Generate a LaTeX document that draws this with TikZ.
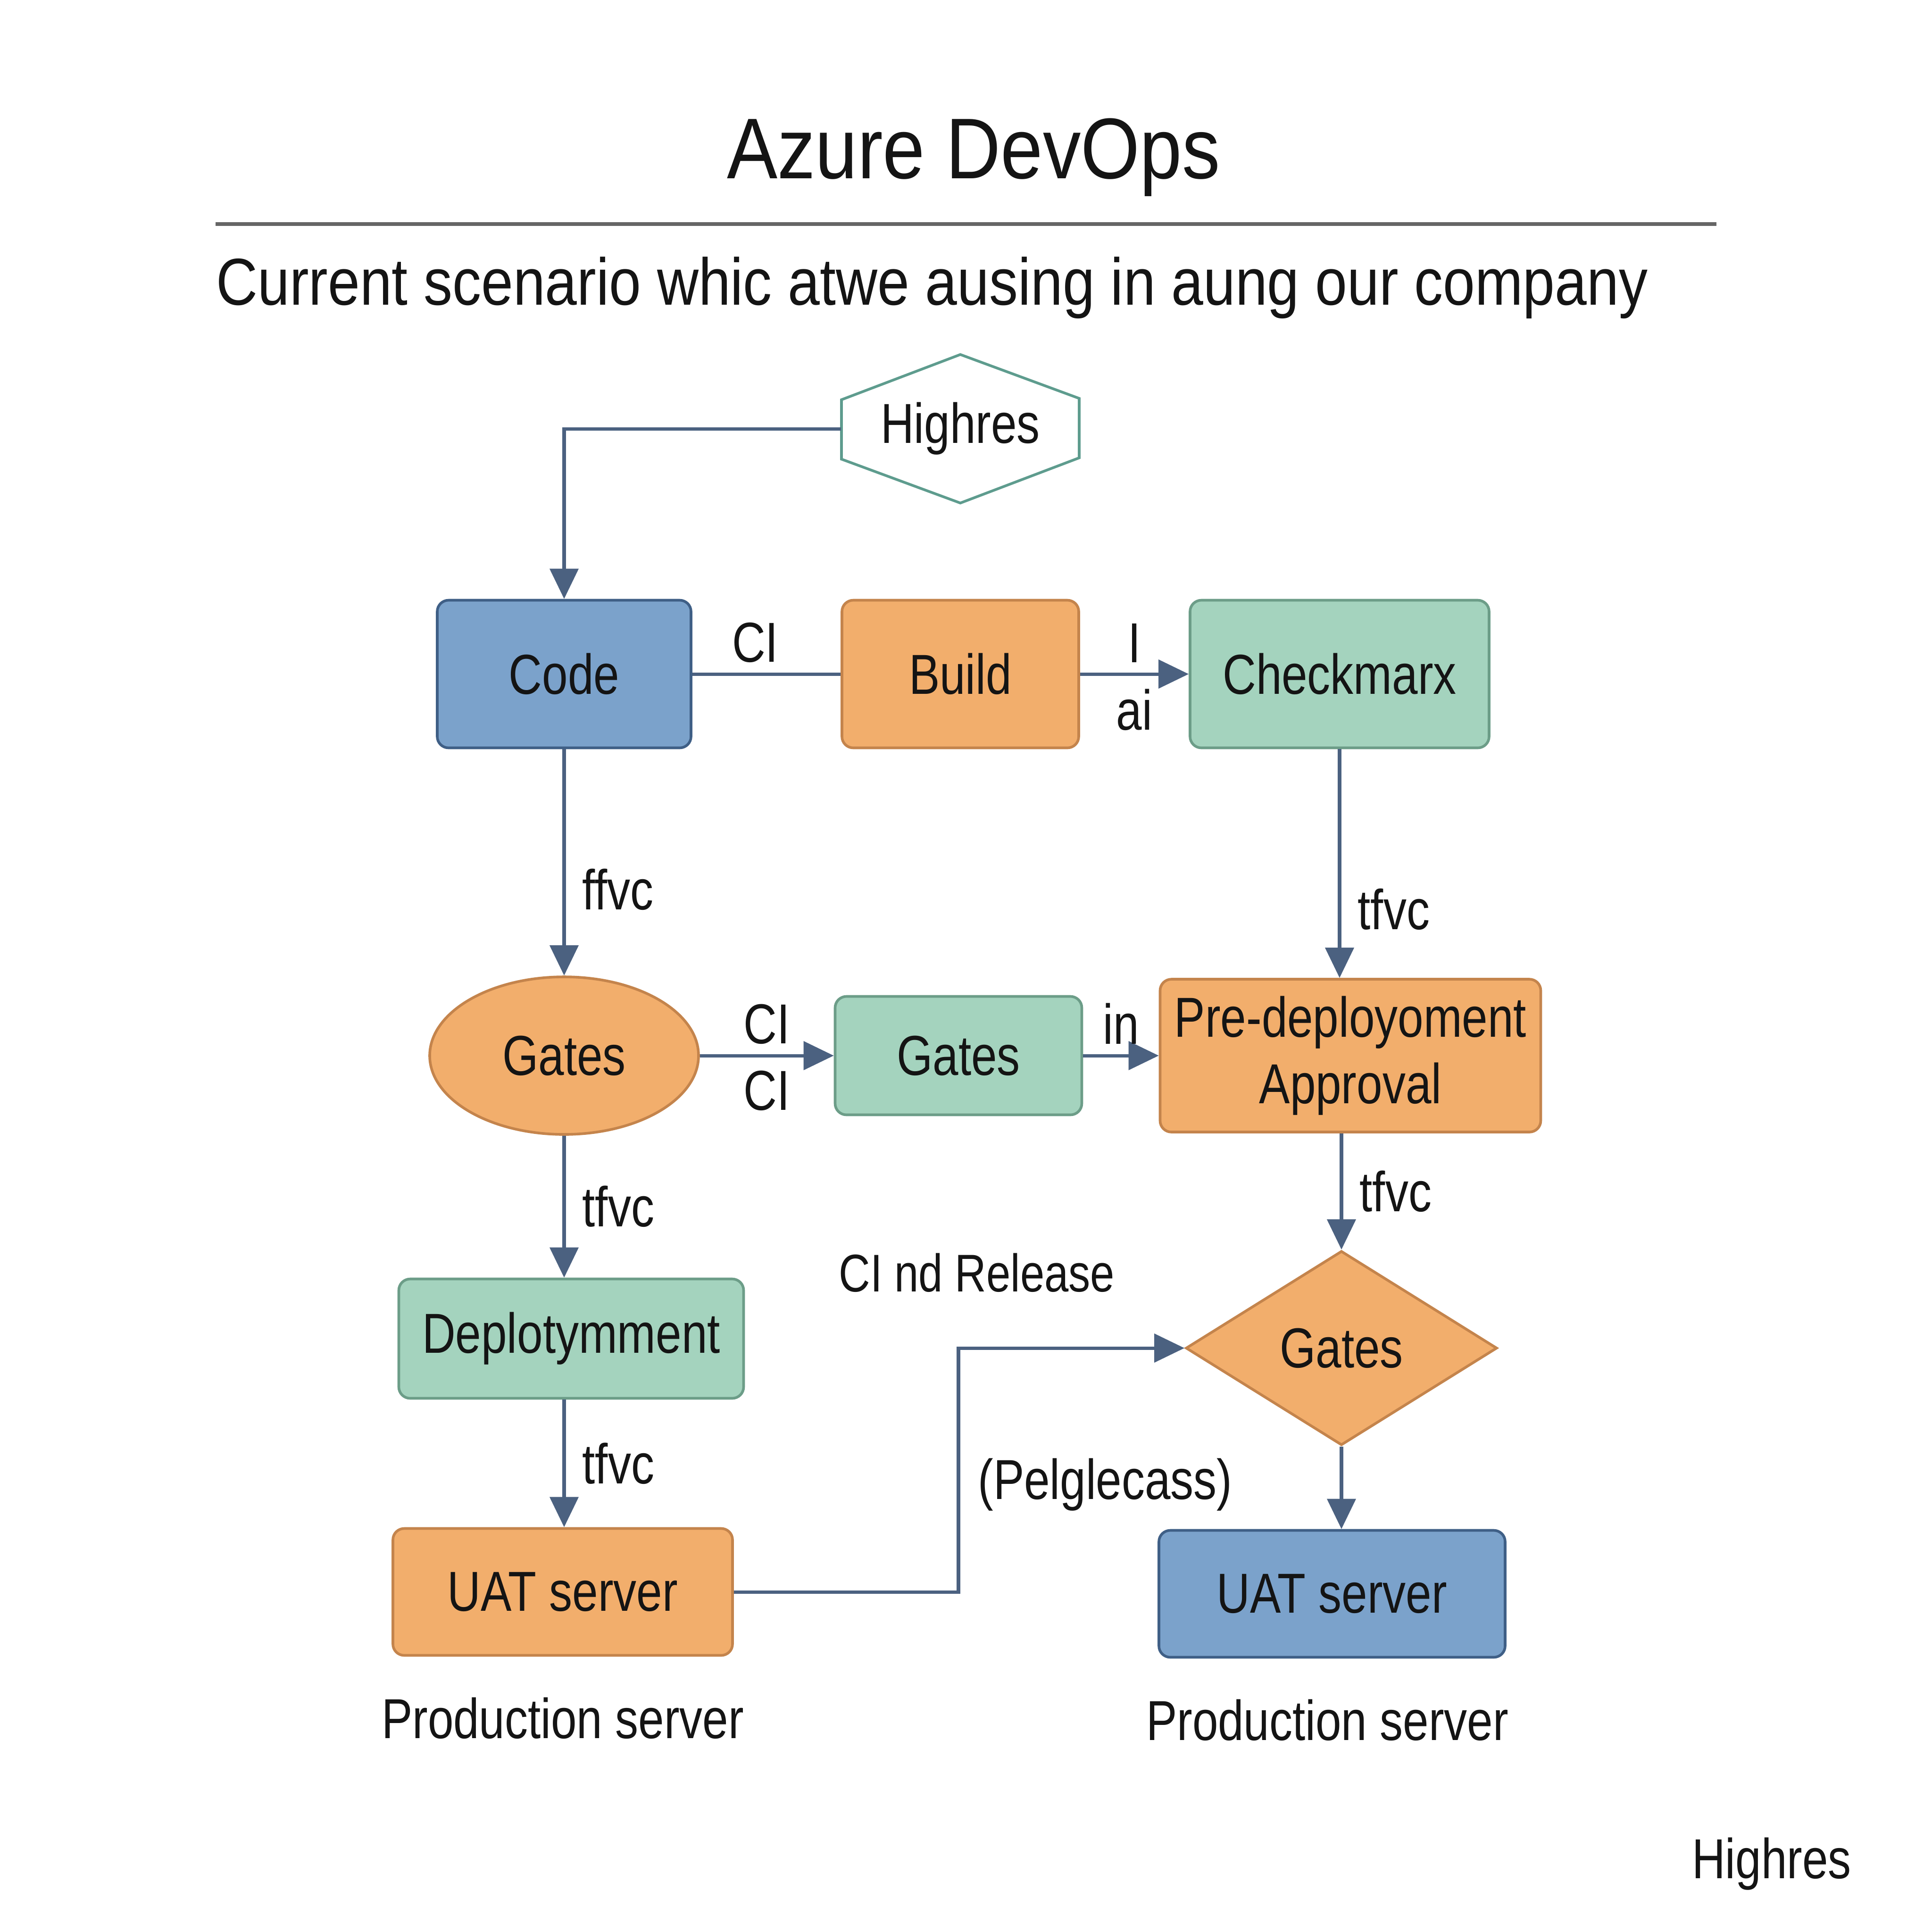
\documentclass[tikz,border=0pt]{standalone}
\usepackage{fontspec}
\setmainfont{Liberation Sans}[FakeStretch=0.82]
\newfontfamily\titrefont{Liberation Sans}[FakeStretch=0.88]
\newfontfamily\soustitrefont{Liberation Sans}[FakeStretch=0.867]
\usetikzlibrary{shapes.geometric, arrows.meta, positioning}

\definecolor{bleuF}{HTML}{7BA2CB}
\definecolor{bleuT}{HTML}{3F5F86}
\definecolor{orangeF}{HTML}{F2AE6C}
\definecolor{orangeT}{HTML}{C4844C}
\definecolor{verteF}{HTML}{A4D3BE}
\definecolor{verteT}{HTML}{6C9D88}
\definecolor{trait}{HTML}{4B6180}
\definecolor{hexT}{HTML}{5E9C8E}

\begin{document}
\begin{tikzpicture}[node distance=4cm, >={Triangle[length=0.32cm, width=0.3cm]}, font=\fontsize{17}{20}\selectfont, text=black!92]

        % Styles
        \tikzstyle{boite}=[rectangle, draw, rounded corners=0.12cm, align=center, line width=0.8pt, inner sep=0pt]
        \tikzstyle{bleue}=[boite, fill=bleuF, draw=bleuT]
        \tikzstyle{orangee}=[boite, fill=orangeF, draw=orangeT]
        \tikzstyle{verte}=[boite, fill=verteF, draw=verteT]
        \tikzstyle{ligne}=[draw=trait, line width=1pt]
        \tikzstyle{fleche}=[->, draw=trait, line width=1pt]

        \useasboundingbox (0,0) rectangle (20.48,-20.48);

        % Titre
        \node[font=\titrefont\fontsize{26}{30}\selectfont] (titre) at (10.32,-1.67) {Azure DevOps};
        \draw[black!60, line width=1.2pt] (2.285,-2.375) -- (18.195,-2.375);
        \node[anchor=west, inner sep=0pt, font=\soustitrefont\fontsize{20}{24}\selectfont] (soustitre) at (2.285,-3.05) {Current scenario whic atwe ausing in aung our company};

        % Noeuds
        \node[bleue, minimum width=2.69cm, minimum height=1.565cm] (code) at (5.98,-7.145) {Code};
        \node[orangee, minimum width=2.51cm, minimum height=1.565cm, right of=code, xshift=0.2cm] (build) {Build};
        \node[verte, minimum width=3.17cm, minimum height=1.565cm, right of=build, xshift=0.02cm] (check) {Checkmarx};
        \node[minimum width=2.52cm, minimum height=1.56cm, inner sep=0pt, above of=build, yshift=-1.4cm] (hex) {Highres};
        \draw[hexT, line width=0.8pt] (hex.north) -- ++(1.26,-0.465) -- ++(0,-0.63) -- (hex.south) -- ++(-1.26,0.465) -- ++(0,0.63) -- cycle;

        \node[orangee, ellipse, minimum width=2.85cm, minimum height=1.67cm, below of=code, yshift=-0.045cm] (gate1) {Gates};
        \node[verte, minimum width=2.615cm, minimum height=1.255cm, right of=gate1, xshift=0.18cm] (gate2) {Gates};
        \node[orangee, minimum width=4.035cm, minimum height=1.62cm, right of=gate2, xshift=0.155cm] (pre) {Pre-deployoment\\Approval};

        \node[verte, minimum width=3.655cm, minimum height=1.265cm, below of=gate1, node distance=3cm, xshift=0.075cm] (deploy) {Deplotymment};
        \node[orangee, minimum width=3.6cm, minimum height=1.345cm, below of=deploy, node distance=2.685cm, xshift=-0.09cm] (uat1) {UAT server};
        \node[orangee, diamond, sharp corners, minimum width=3.3cm, minimum height=2.06cm, below of=pre, node distance=3.1cm, xshift=-0.095cm] (dia) {Gates};
        \node[bleue, minimum width=3.67cm, minimum height=1.345cm, below of=dia, node distance=2.605cm, xshift=-0.1cm] (uat2) {UAT server};

        \node[below of=uat1, node distance=1.34cm] (prod1) {Production server};
        \node[below of=uat2, node distance=1.34cm, xshift=-0.05cm] (prod2) {Production server};

        \node[font=\fontsize{16}{19}\selectfont] (release) at (10.355,-13.49) {CI nd Release};
        \node (pelg) at (11.715,-15.74) {(Pelglecass)};
        \node (coin) at (18.78,-19.76) {Highres};

        % Flèches
        \draw[fleche] (hex.west) -| (code.north);
        \draw[ligne] (code) -- node[above, inner sep=3pt, xshift=-0.12cm] {CI} (build);
        \draw[fleche] (build) -- node[above, inner sep=3pt] {I} node[below, inner sep=4pt] {ai} (check);
        \draw[fleche] (code) -- node[pos=0.62, right, inner sep=5pt] {ffvc} (gate1);
        \draw[fleche] (check.south) -- node[pos=0.7, right, inner sep=5pt] {tfvc} (check.south |- pre.north);
        \draw[fleche] (gate1) -- node[above, inner sep=3pt] {CI} node[below, inner sep=4pt] {CI} (gate2);
        \draw[fleche] (gate2) -- node[above, inner sep=3pt] {in} (pre);
        \draw[fleche] (gate1.south) -- node[right, inner sep=5pt] {tfvc} (gate1.south |- deploy.north);
        \draw[fleche] (dia.north |- pre.south) -- node[right, inner sep=5pt] {tfvc} (dia.north);
        \draw[fleche] (gate1.south |- deploy.south) -- node[right, inner sep=5pt] {tfvc} (gate1.south |- uat1.north);
        \draw[fleche] (uat1.east) -- (uat1.east -| gate2) |- (dia.west);
        \draw[fleche] (dia.south) -- (dia.south |- uat2.north);

\end{tikzpicture}
\end{document}
